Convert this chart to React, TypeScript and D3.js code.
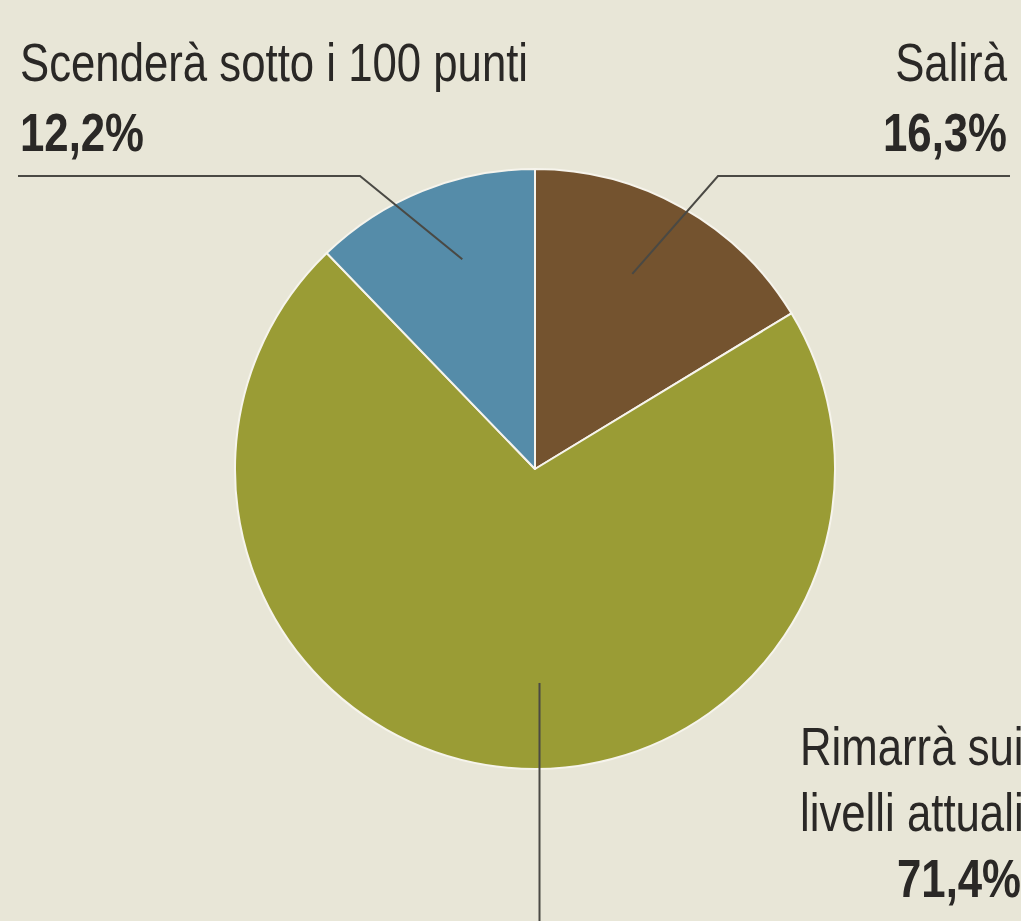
import React from "react";
import * as d3 from "d3";

const categories = ["Salirà", "Rimarrà sui livelli attuali", "Scenderà sotto i 100 punti"];
const values = [16.3, 71.4, 12.2];
const valueLabels = ["16,3%", "71,4%", "12,2%"];
const colors = ["#74532f", "#9a9c35", "#558ca9"];
const rimLines = ["Rimarrà sui", "livelli attuali"];

const W = 1021;
const H = 921;
const CX = 535;
const CY = 469;
const R = 300;
const BG = "#e8e6d7";
const INK = "#2a2826";
const LINE = "#4a4944";
const FONT = "'Liberation Sans', Arial, sans-serif";
const FS = 54;
const SX = 0.81;

function Label(props: { x: number; y: number; text: string; anchor?: string; bold?: boolean }) {
  const { x, y, text, anchor, bold } = props;
  return (
    <g transform={`translate(${x},${y}) scale(${SX},1)`}>
      <text x={0} y={0} textAnchor={anchor || "start"} fontWeight={bold ? "bold" : "normal"}>
        {text}
      </text>
    </g>
  );
}

export default function App() {
  const pie = d3.pie<number>().sort(null).startAngle(0).endAngle(2 * Math.PI);
  const arcs = pie(values);
  const arc = d3.arc<d3.PieArcDatum<number>>().innerRadius(0).outerRadius(R);

  const pt = (a: number, r: number): [number, number] => [CX + r * Math.sin(a), CY - r * Math.cos(a)];
  const mid = (d: d3.PieArcDatum<number>) => (d.startAngle + d.endAngle) / 2;

  const salAnchor = pt(mid(arcs[0]) - 0.05, 218);
  const rimAnchor = pt(mid(arcs[1]) - 0.15, 214);
  const scAnchor = pt(mid(arcs[2]) + 0.05, 222);

  const lineGen = d3.line();
  const salPath = lineGen([salAnchor, [718, 176], [1010, 176]]);
  const scPath = lineGen([scAnchor, [360, 176], [18, 176]]);
  const rimPath = lineGen([[rimAnchor[0], rimAnchor[1]], [rimAnchor[0], H + 5]]);

  return (
    <svg
      width={W}
      height={H}
      style={{ position: "absolute", left: 0, top: 0, display: "block", background: BG }}
    >
      <rect x={0} y={0} width={W} height={H} fill={BG} />
      <g transform={`translate(${CX},${CY})`}>
        {arcs.map((d, i) => (
          <path key={i} d={arc(d) || ""} fill={colors[i]} stroke="#f6f4ec" strokeWidth={2} strokeLinejoin="round" />
        ))}
      </g>
      <g fill="none" stroke={LINE} strokeWidth={2}>
        <path d={salPath || ""} />
        <path d={scPath || ""} />
        <path d={rimPath || ""} />
      </g>
      <g fontFamily={FONT} fill={INK} fontSize={FS}>
        <Label x={20} y={81} text={categories[2]} />
        <Label x={20} y={151} text={valueLabels[2]} bold />
        <Label x={1007} y={81} text={categories[0]} anchor="end" />
        <Label x={1007} y={151} text={valueLabels[0]} anchor="end" bold />
        <Label x={800} y={765} text={rimLines[0]} />
        <Label x={800} y={831} text={rimLines[1]} />
        <Label x={897} y={897} text={valueLabels[1]} bold />
      </g>
    </svg>
  );
}
